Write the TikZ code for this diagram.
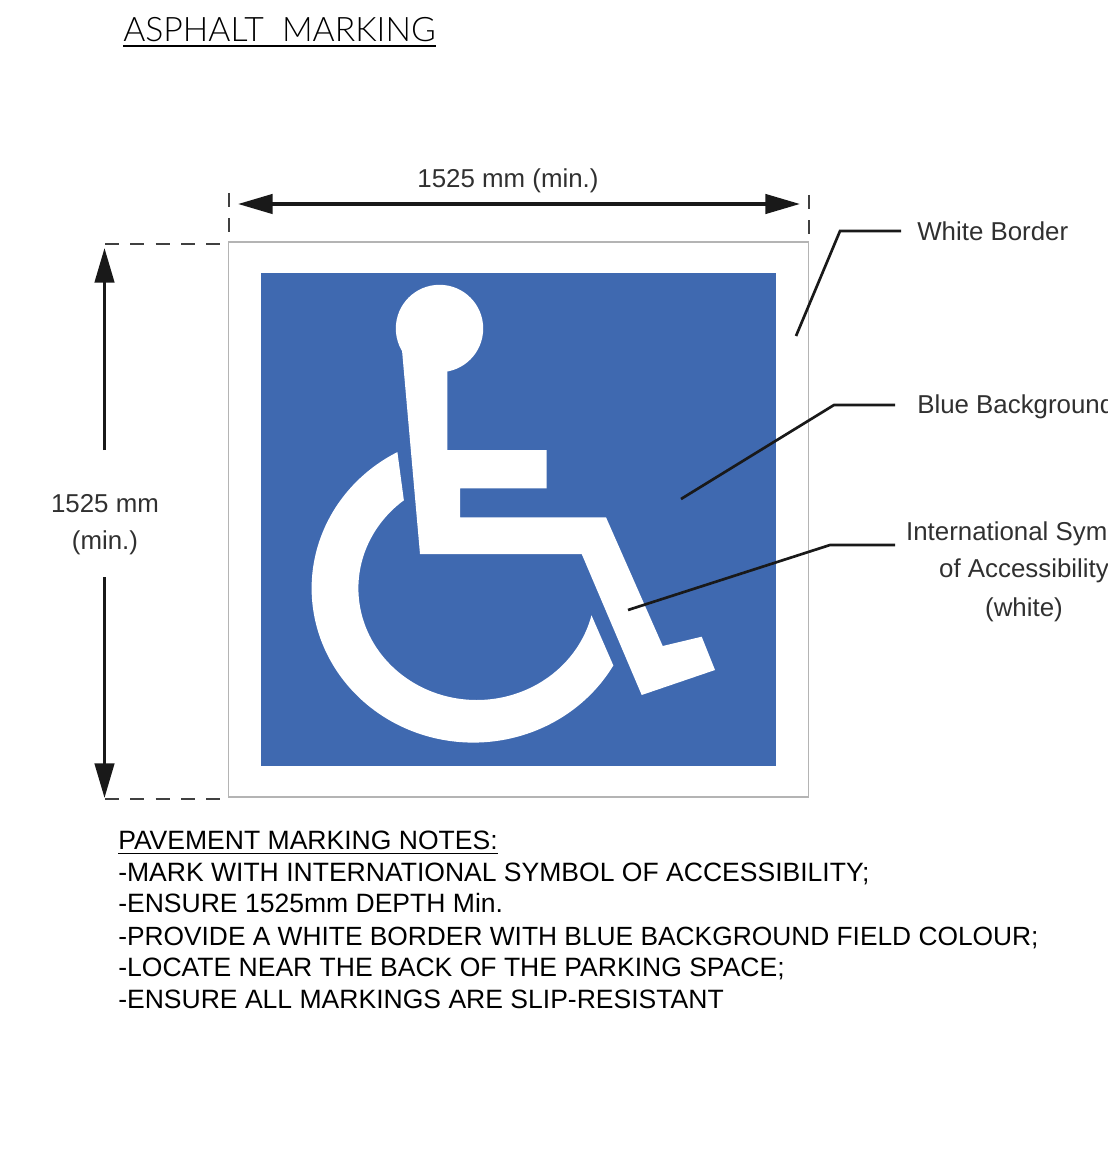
\documentclass[tikz,border=0pt]{standalone}
\usepackage{fontspec}
\setmainfont{Liberation Sans}
\newfontfamily\titlefont[UprightFont=* Light]{Lato}
\usetikzlibrary{arrows.meta}
\definecolor{signblue}{HTML}{3F69B0}
\definecolor{labelgrey}{HTML}{303030}
\definecolor{edgegrey}{HTML}{B4B4B4}
\tikzset{
  x=0.75pt,y=-0.75pt,
  labeltext/.style={inner sep=0pt,text=labelgrey,font=\fontsize{19.4}{22}\selectfont},
  notetext/.style={inner sep=0pt,anchor=base west,text=black,font=\fontsize{19.9}{24}\selectfont},
  dimarrow/.style={line width=2.6pt,color=black!90,-{Triangle[length=26pt,width=14.5pt]}},
  extline/.style={line width=1.8pt,color=black!75,dash pattern=on 10.5pt off 8.5pt},
  leader/.style={line width=2pt,color=black!90},
  symbolfill/.style={fill=white,draw=none}
}
\begin{document}
\begin{tikzpicture}
\useasboundingbox (0,0) rectangle (1107,1155);
\begin{scope}
\clip (0,0) rectangle (1107,1155);
% sign
\draw[edgegrey,line width=1.1pt,fill=white] (228.5,242) rectangle (808.5,797);
\fill[signblue] (261,273) rectangle (776,766);
% symbol
\fill[symbolfill] (439.5,328.5) circle [radius=43.7];
\fill[symbolfill] (401.7,346.7) -- (420,554) -- (581.7,554) -- (641.7,695) -- (715,670) -- (701.7,636.7) -- (662.7,646) -- (606,517.3) -- (460,517.3) -- (460,488.3) -- (546.7,488.3) -- (546.7,450) -- (447.3,450) -- (447.3,366.7) -- cycle;
\fill[symbolfill] plot[domain=242:30,samples=90,smooth] ({473.3+161.7*cos(\x)},{588.3+154.3*sin(\x)})
  -- plot[domain=14:232,samples=90,smooth] ({476.7+118.3*cos(\x)},{588.3+111.7*sin(\x)}) -- cycle;
% coordinates
\coordinate (topL) at (238,204);
\coordinate (topR) at (800,204);
\coordinate (upS) at (104.5,450);
\coordinate (upE) at (104.5,248);
\coordinate (dnS) at (104.5,577);
\coordinate (dnE) at (104.5,798);
\coordinate (extLa) at (229,193);
\coordinate (extLb) at (229,233);
\coordinate (extRa) at (809,195);
\coordinate (extRb) at (809,234);
\coordinate (extTa) at (105,244);
\coordinate (extTb) at (226,244);
\coordinate (extBa) at (105,799);
\coordinate (extBb) at (226,799);
\coordinate (wbA) at (796,336);
\coordinate (wbB) at (840,231);
\coordinate (wbC) at (901,231);
\coordinate (bbA) at (681,499);
\coordinate (bbB) at (834,405);
\coordinate (bbC) at (895,405);
\coordinate (isA) at (628,610);
\coordinate (isB) at (830,545);
\coordinate (isC) at (895,545);
% dimension lines
\draw[dimarrow,{Triangle[length=26pt,width=14.5pt]}-{Triangle[length=26pt,width=14.5pt]}] (topL) -- (topR);
\draw[dimarrow] (upS) -- (upE);
\draw[dimarrow] (dnS) -- (dnE);
\draw[extline] (extLa) -- (extLb);
\draw[extline] (extRa) -- (extRb);
\draw[extline] (extTa) -- (extTb);
\draw[extline] (extBa) -- (extBb);
% leaders
\draw[leader] (wbA) -- (wbB) -- (wbC);
\draw[leader] (bbA) -- (bbB) -- (bbC);
\draw[leader] (isA) -- (isB) -- (isC);
% labels
\node[labeltext] (dimtop) at (508,181) {1525 mm (min.)};
\node[labeltext] (dimleftA) at (105,504) {1525 mm};
\node[labeltext] (dimleftB) at (105,543) {(min.)};
\node[labeltext,anchor=west] (lblwb) at (917,231) {White Border};
\node[labeltext,anchor=west] (lblbb) at (917,407) {Blue Background};
\node[labeltext] (lblisA) at (1024,534) {International Symbol};
\node[labeltext] (lblisB) at (1024,571) {of Accessibility};
\node[labeltext] (lblisC) at (1024,610) {(white)};
% title
\node[inner sep=0pt,anchor=base west,text=black,font=\titlefont\fontsize{25.3}{30}\selectfont] (title) at (123,42) {ASPHALT\ \ MARKING};
\draw[line width=1pt] ([yshift=-3pt]title.base west) -- ([yshift=-3pt]title.base east);
% notes
\node[notetext] (noteA) at (118,849) {PAVEMENT MARKING NOTES:};
\draw[line width=1pt] ([yshift=-3.5pt]noteA.base west) -- ([yshift=-3.5pt]noteA.base east);
\node[notetext] (noteB) at (118,881) {-MARK WITH INTERNATIONAL SYMBOL OF ACCESSIBILITY;};
\node[notetext] (noteC) at (118,912) {-ENSURE 1525mm DEPTH Min.};
\node[notetext,font=\fontsize{19.75}{24}\selectfont] (noteD) at (118,945) {-PROVIDE A WHITE BORDER WITH BLUE BACKGROUND FIELD COLOUR;};
\node[notetext] (noteE) at (118,976) {-LOCATE NEAR THE BACK OF THE PARKING SPACE;};
\node[notetext] (noteF) at (118,1008) {-ENSURE ALL MARKINGS ARE SLIP-RESISTANT};
\end{scope}
\end{tikzpicture}
\end{document}
